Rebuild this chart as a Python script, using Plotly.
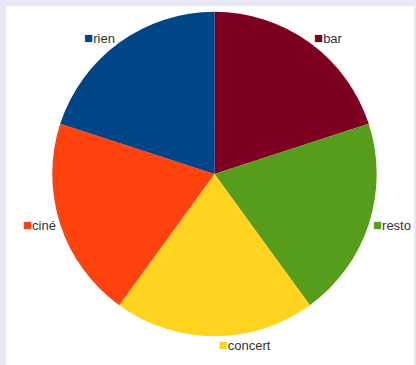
import plotly.graph_objects as go

# clockwise from 12 o'clock
labels = ["bar", "resto", "concert", "ciné", "rien"]
values = [1, 1, 1, 1, 1]
colors = ["#7e0021", "#579d1c", "#ffd320", "#ff420e", "#004586"]

W, H = 416, 365
cx, cy, r = 215.5, 174, 163

texts = [f"<span style='color:{c};font-size:15px'>■</span>{l}" for l, c in zip(labels, colors)]

fig = go.Figure(go.Pie(
    labels=labels,
    values=values,
    text=texts,
    texttemplate="%{text}",
    textposition="outside",
    textfont=dict(family="Liberation Sans, Arial, sans-serif", size=13, color="#333333"),
    marker=dict(colors=colors, line=dict(width=0)),
    direction="clockwise",
    rotation=0,
    sort=False,
    showlegend=False,
    hoverinfo="label",
    domain=dict(x=[(cx - r) / W, (cx + r) / W], y=[(H - (cy + r)) / H, (H - (cy - r)) / H]),
))

fig.update_layout(
    width=W, height=H,
    margin=dict(l=0, r=0, t=0, b=0),
    paper_bgcolor="#e8e8f5",
    plot_bgcolor="white",
    shapes=[dict(type="rect", xref="paper", yref="paper", x0=6 / W, x1=1, y0=0, y1=(H - 6) / H,
                 fillcolor="white", line=dict(width=0), layer="below")],
)

fig.write_html("out.html", config={"displayModeBar": False},
               post_script="document.body.style.margin='0';")
